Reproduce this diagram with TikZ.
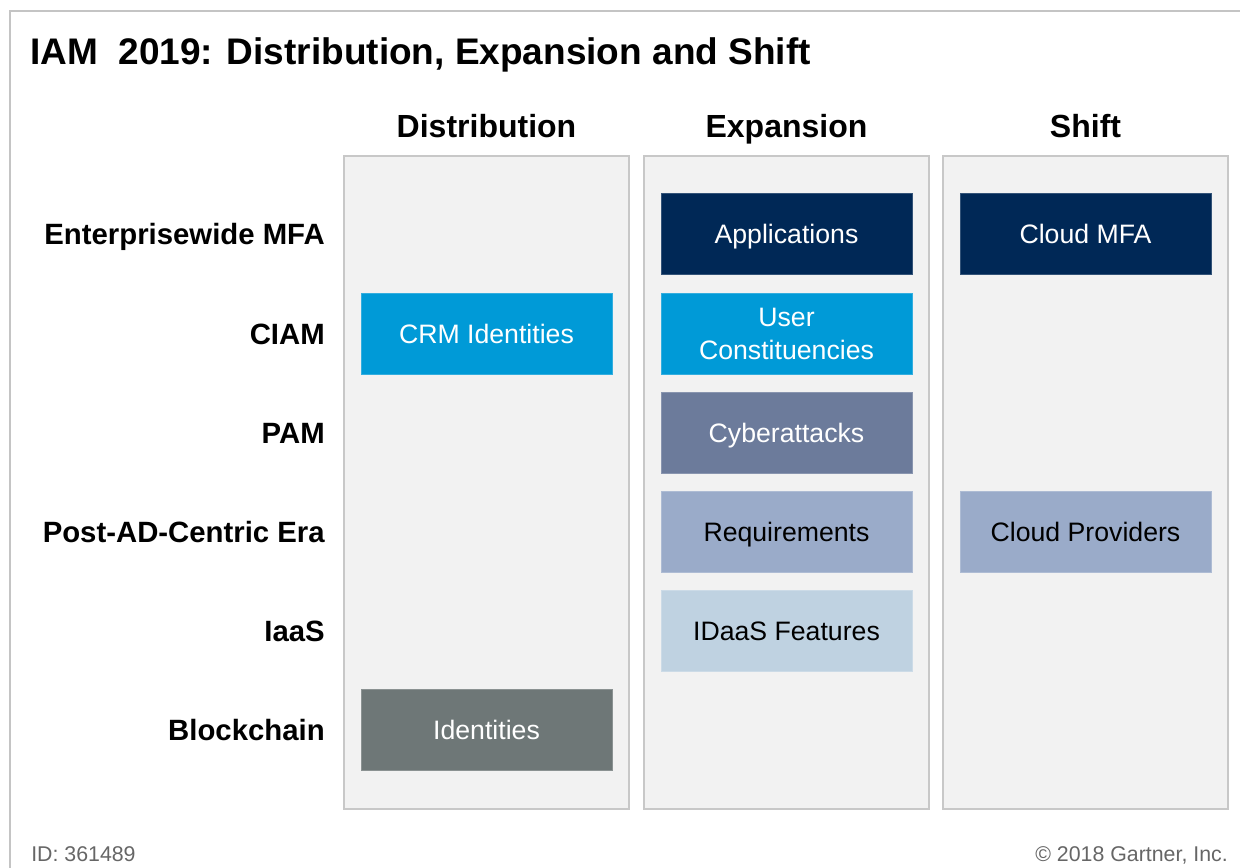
\documentclass[tikz,border=0pt]{standalone}
\usepackage{fontspec}
\setmainfont{Liberation Sans}
\definecolor{framegray}{HTML}{C4C4C4}
\definecolor{panelfill}{HTML}{F2F2F2}
\definecolor{panelline}{HTML}{C8C8C8}
\definecolor{navy}{HTML}{002856}
\definecolor{cyanblue}{HTML}{009AD7}
\definecolor{slate}{HTML}{6C7B9B}
\definecolor{periwinkle}{HTML}{9AABC9}
\definecolor{paleblue}{HTML}{BFD2E1}
\definecolor{stonegray}{HTML}{6E7777}
\definecolor{footgray}{HTML}{666666}
\tikzset{
  panel/.style={fill=panelfill, draw=panelline, line width=0.8pt},
  tile/.style={fill=#1, draw=#1!80!white, line width=0.4pt,
    minimum width=188.25pt, minimum height=60.75pt, inner sep=0pt,
    align=center, font=\fontsize{20}{24.5}\selectfont,
    text height=14.4pt, text depth=0pt},
  twoline/.style={text height=38.9pt},
  lighttext/.style={text=white},
  darktext/.style={text=black},
  rowlabel/.style={anchor=base east, inner sep=0pt,
    font=\fontsize{22}{26}\selectfont\bfseries},
  colhead/.style={anchor=base, inner sep=0pt,
    font=\fontsize{24}{28}\selectfont\bfseries},
  foot/.style={inner sep=0pt, text=footgray,
    font=\fontsize{16}{19}\selectfont}
}
\begin{document}
\begin{tikzpicture}[x=0.75pt, y=-0.75pt]
\path[use as bounding box] (0,0) rectangle (1240,868);

% outer frame (left and top edges)
\draw[framegray, line width=1.5pt] (10,868) -- (10,11) -- (1240,11);

% title
\node[anchor=base west, inner sep=0pt, font=\fontsize{27.75}{33}\selectfont\bfseries]
  (title) at (30,64) {IAM\ \ 2019: Distribution, Expansion and Shift};

% column panels
\draw[panel] (344,156) rectangle (629,809);
\draw[panel] (644,156) rectangle (929,809);
\draw[panel] (943,156) rectangle (1228,809);

% column headings
\node[colhead] (hdist)  at (486.5,137) {Distribution};
\node[colhead] (hexp)   at (786.5,137) {Expansion};
\node[colhead] (hshift) at (1085.5,137) {Shift};

% row labels
\node[rowlabel] (rmfa)   at (325,244) {Enterprisewide MFA};
\node[rowlabel] (rciam)  at (325,344) {CIAM};
\node[rowlabel] (rpam)   at (325,443) {PAM};
\node[rowlabel] (rpost)  at (325,542) {Post-AD-Centric Era};
\node[rowlabel] (riaas)  at (325,641) {IaaS};
\node[rowlabel] (rblock) at (325,740) {Blockchain};

% Distribution tiles
\node[tile=cyanblue, lighttext]  (crm) at (486.5,333.5) {CRM Identities};
\node[tile=stonegray, lighttext] (ids) at (486.5,729.5) {Identities};

% Expansion tiles
\node[tile=navy, lighttext]      (apps)  at (786.5,233.5) {Applications};
\node[tile=cyanblue, lighttext, twoline] (users) at (786.5,333.5) {User\\Constituencies};
\node[tile=slate, lighttext]     (cyber) at (786.5,432.5) {Cyberattacks};
\node[tile=periwinkle, darktext] (reqs)  at (786.5,531.5) {Requirements};
\node[tile=paleblue, darktext]   (idaas) at (786.5,630.5) {IDaaS Features};

% Shift tiles
\node[tile=navy, lighttext]      (cmfa)  at (1085.5,233.5) {Cloud MFA};
\node[tile=periwinkle, darktext] (cprov) at (1085.5,531.5) {Cloud Providers};

% footer
\node[foot, anchor=base west] (docid) at (31,861) {ID: 361489};
\node[foot, anchor=base east] (copy)  at (1228,861) {© 2018 Gartner, Inc.};
\end{tikzpicture}
\end{document}
